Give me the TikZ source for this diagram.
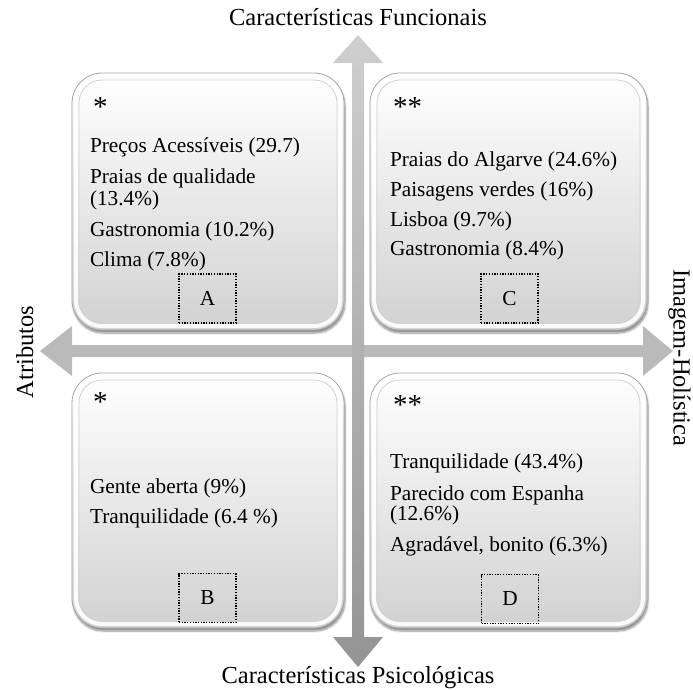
\documentclass[tikz,border=0pt]{standalone}
\usepackage{fontspec}
\setmainfont{Liberation Serif}
\usetikzlibrary{arrows.meta,shadows.blur,calc}

\begin{document}
\begin{tikzpicture}[x=1pt,y=-1pt,
  every node/.style={inner sep=0pt, outer sep=0pt},
  body/.style={font=\fontsize{21.3}{22}\selectfont},
  item/.style={body, anchor=base west},
  star/.style={font=\fontsize{29}{30}\selectfont, anchor=base west},
  axislabel/.style={font=\fontsize{24.5}{26}\selectfont, anchor=base},
  panel/.style={rectangle, rounded corners=30pt, draw=black!35, line width=0.8pt,
    top color=white, bottom color=black!18,
    minimum width=#1, minimum height=257pt,
    blur shadow={shadow xshift=1pt, shadow yshift=-3pt, shadow blur steps=8, shadow opacity=45}},
  rim/.style={draw=white, line width=4pt, rounded corners=26pt, opacity=0.9},
  innerline/.style={draw=black!18, line width=0.8pt, rounded corners=23pt},
  tag/.style={body, draw=black, line width=1.3pt, dash pattern=on 1.3pt off 1.4pt,
    minimum width=57pt, minimum height=49pt},
  axisfill/.style={fill=black!27},
]
\useasboundingbox (0,0) rectangle (693,689);

% axis end points
\coordinate (T) at (358,35);
\coordinate (Bt) at (358,667);
\coordinate (L) at (40,351);
\coordinate (R) at (673,351);

% horizontal axis arrow
\fill[axisfill] (L) -- ($(L)+(32,-25)$) -- ($(L)+(32,-6)$) -- ($(R)+(-30,-6)$)
  -- ($(R)+(-30,-25)$) -- (R) -- ($(R)+(-30,25)$) -- ($(R)+(-30,6)$)
  -- ($(L)+(32,6)$) -- ($(L)+(32,25)$) -- cycle;

% vertical axis arrow
\shade[top color=black!19, bottom color=black!42]
  (T) -- ($(T)+(25,28)$) -- ($(T)+(6,28)$) -- ($(Bt)+(6,-30)$)
  -- ($(Bt)+(25,-30)$) -- (Bt) -- ($(Bt)+(-25,-30)$) -- ($(Bt)+(-6,-30)$)
  -- ($(T)+(-6,28)$) -- ($(T)+(-25,28)$) -- cycle;

% quadrant panels
\node[panel=272pt] (boxA) at (208,201.5) {};
\node[panel=277pt] (boxC) at (508.5,201.5) {};
\node[panel=272pt, minimum height=255pt] (boxB) at (208,500.5) {};
\node[panel=277pt, minimum height=255pt] (boxD) at (508.5,500.5) {};

\foreach \b in {boxA,boxB,boxC,boxD}{
  \path[rim] ($(\b.north west)+(4,4)$) rectangle ($(\b.south east)+(-4,-4)$);
  \path[innerline] ($(\b.north west)+(7,7)$) rectangle ($(\b.south east)+(-7,-7)$);
}

% axis labels
\node[axislabel] (lblTop) at (358,25.5) {Características Funcionais};
\node[axislabel] (lblBot) at (358,683) {Características Psicológicas};
\node[axislabel, rotate=90] (lblL) at (33,352) {Atributos};
\node[axislabel, rotate=-90] (lblR) at (673.5,358) {Imagem-Holística};

% panel A
\node[star] (a0) at (93,116) {*};
\node[item] (a1) at (90,152) {Preços Acessíveis (29.7)};
\node[item] (a2) at (90,183) {Praias de qualidade};
\node[item] (a3) at (90,205) {(13.4\%)};
\node[item] (a4) at (90,236) {Gastronomia (10.2\%)};
\node[item] (a5) at (90,266) {Clima (7.8\%)};
\node[tag] (tagA) at (207.5,298.5) {A};

% panel C
\node[star] (c0) at (393,116) {**};
\node[item] (c1) at (390,166) {Praias do Algarve (24.6\%)};
\node[item] (c2) at (390,196) {Paisagens verdes (16\%)};
\node[item] (c3) at (390,226) {Lisboa (9.7\%)};
\node[item] (c4) at (390,255) {Gastronomia (8.4\%)};
\node[tag] (tagC) at (509.5,298.5) {C};

% panel B
\node[star] (b0) at (93,411) {*};
\node[item] (b1) at (90,493) {Gente aberta (9\%)};
\node[item] (b2) at (90,523) {Tranquilidade (6.4 \%)};
\node[tag] (tagB) at (207.5,598) {B};

% panel D
\node[star] (d0) at (393,414) {**};
\node[item] (d1) at (390,468) {Tranquilidade (43.4\%)};
\node[item] (d2) at (390,500) {Parecido com Espanha};
\node[item] (d3) at (390,520) {(12.6\%)};
\node[item] (d4) at (390,551) {Agradável, bonito (6.3\%)};
\node[tag] (tagD) at (510,599) {D};
\end{tikzpicture}
\end{document}
